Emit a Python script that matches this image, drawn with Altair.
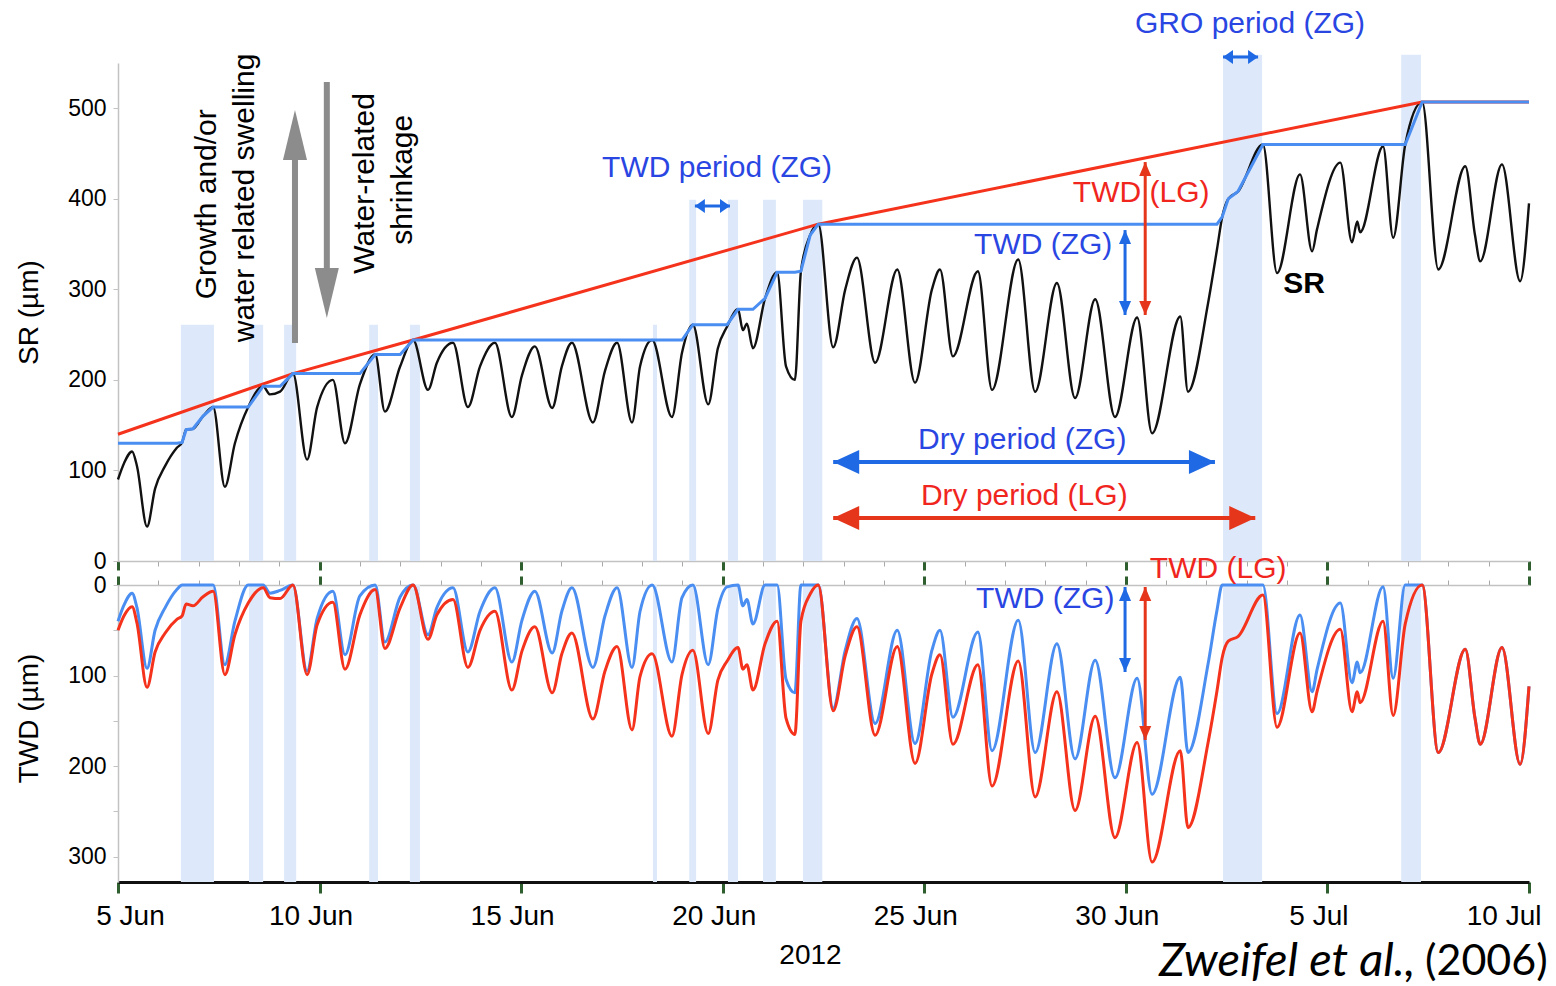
import altair as alt
import pandas as pd

# ---------------- data ----------------
# time in days after 5 Jun 2012 00:00
day = [0.00, 0.15, 0.35, 0.47, 0.72, 0.92, 1.17, 1.46, 1.59, 1.69,
       1.86, 2.11, 2.36, 2.65, 2.90, 3.23, 3.60, 3.77, 4.02, 4.34,
       4.69, 4.94, 5.33, 5.63, 6.00, 6.38, 6.62, 7.00, 7.32, 7.69,
       7.91, 8.31, 8.68, 8.98, 9.35, 9.77, 10.02, 10.34, 10.77, 11.01,
       11.26, 11.78, 12.08, 12.38, 12.75, 12.95, 13.25, 13.74, 13.99, 14.26,
       14.64, 14.88, 15.11, 15.38, 15.50, 15.60, 15.75, 16.05, 16.35, 16.57,
       16.79, 16.94, 17.17, 17.37, 17.74, 18.04, 18.33, 18.78, 19.33, 19.77,
       20.19, 20.39, 20.71, 21.33, 21.68, 22.33, 22.75, 23.29, 23.74, 24.24,
       24.73, 25.28, 25.65, 26.35, 26.54, 27.04, 27.26, 27.39, 27.54, 27.78,
       28.40, 28.75, 29.32, 29.62, 29.74, 30.32, 30.61, 30.74, 30.81, 31.38,
       31.63, 31.93, 32.35, 32.75, 33.42, 33.66, 33.79, 34.33, 34.78, 35.00]

sr = [90, 108, 121, 105, 38, 80, 105, 125, 131, 145,
      146, 160, 170, 82, 130, 170, 193, 184, 187, 207,
      112, 170, 200, 130, 195, 228, 165, 215, 244, 189,
      219, 241, 170, 215, 241, 159, 205, 237, 169, 215,
      241, 153, 210, 241, 153, 215, 244, 159, 230, 261,
      173, 235, 259, 278, 255, 262, 235, 290, 319, 215,
      200, 320, 360, 372, 236, 300, 335, 219, 322, 197,
      300, 322, 226, 320, 189, 333, 187, 307, 180, 289,
      159, 269, 141, 270, 187, 285, 344, 380, 400, 408,
      460, 318, 427, 342, 366, 440, 352, 375, 363, 458,
      357, 460, 507, 322, 436, 360, 331, 438, 309, 395]

zg = [130, 130, 130, 130, 130, 130, 130, 130, 131, 145,
      146, 160, 170, 170, 170, 170, 193, 193, 193, 207,
      207, 207, 207, 207, 207, 228, 228, 228, 244, 244,
      244, 244, 244, 244, 244, 244, 244, 244, 244, 244,
      244, 244, 244, 244, 244, 244, 244, 244, 244, 261,
      261, 261, 261, 278, 278, 278, 278, 290, 319, 319,
      319, 320, 360, 372, 372, 372, 372, 372, 372, 372,
      372, 372, 372, 372, 372, 372, 372, 372, 372, 372,
      372, 372, 372, 372, 372, 372, 372, 380, 400, 408,
      460, 460, 460, 460, 460, 460, 460, 460, 460, 460,
      460, 460, 507, 507, 507, 507, 507, 507, 507, 507]

twd_zg = [40, 22, 9, 25, 92, 50, 25, 5, 0, 0,
          0, 0, 0, 88, 40, 0, 0, 9, 6, 0,
          95, 37, 7, 77, 12, 0, 63, 13, 0, 55,
          25, 3, 74, 29, 3, 85, 39, 7, 75, 29,
          3, 91, 34, 3, 91, 29, 0, 85, 14, 0,
          88, 26, 2, 0, 23, 16, 43, 0, 0, 104,
          119, 0, 0, 0, 136, 72, 37, 153, 50, 175,
          72, 50, 146, 52, 183, 39, 185, 65, 192, 83,
          213, 103, 231, 102, 185, 87, 28, 0, 0, 0,
          0, 142, 33, 118, 94, 20, 108, 85, 97, 2,
          103, 0, 0, 185, 71, 147, 176, 69, 198, 112]

twd_lg = [50, 34, 24, 42, 113, 74, 53, 38, 34, 21,
          23, 13, 7, 99, 55, 20, 3, 14, 15, 0,
          99, 44, 19, 93, 33, 5, 70, 25, 0, 60,
          33, 16, 91, 50, 29, 116, 73, 46, 119, 76,
          53, 148, 95, 68, 160, 101, 76, 167, 99, 72,
          164, 105, 84, 69, 93, 88, 116, 65, 40, 147,
          165, 40, 10, 0, 139, 78, 46, 166, 68, 197,
          98, 77, 176, 88, 222, 84, 234, 118, 249, 145,
          279, 174, 306, 183, 268, 174, 117, 80, 62, 57,
          11, 157, 53, 140, 118, 49, 140, 118, 130, 40,
          144, 43, 0, 185, 71, 147, 176, 69, 198, 112]

lg_day = [0.00, 4.34, 7.32, 17.37, 32.35, 35.00]
lg_val = [140, 207, 244, 372, 507, 507]

band_start = [1.56, 3.25, 4.12, 6.23, 7.24, 13.27, 14.17, 15.13, 16.00, 16.99, 27.41, 31.83]
band_end = [2.38, 3.60, 4.42, 6.45, 7.49, 13.37, 14.34, 15.38, 16.32, 17.47, 28.38, 32.32]
band_top = [261, 261, 261, 261, 261, 261, 399, 399, 399, 399, 559, 559]

tick_days = [0, 5, 10, 15, 20, 25, 30, 35]
tick_labels = ["5 Jun", "10 Jun", "15 Jun", "20 Jun", "25 Jun", "30 Jun", "5 Jul", "10 Jul"]

# ---------------- styling ----------------
FONT = "Liberation Sans"
GREEN = "#2f5f2f"
GRAY = "#c2c2c2"
BAND = "#dde9fa"
BLUE_LINE = "#4a8ef2"
RED_LINE = "#f5321c"
BLUE_TXT = "#2a46e2"
RED_TXT = "#f0261e"
BLUE_ARR = "#1f6ae4"
RED_ARR = "#e5361c"
GRAY_ARR = "#8c8c8c"

W = 1411
H_TOP = 498
H_BOT = 297

xs = alt.Scale(domain=[0, 35], nice=False, zero=False)
ys_top = alt.Scale(domain=[0, 550], nice=False)
ys_bot = alt.Scale(domain=[0, 328], nice=False, reverse=True)

df = pd.DataFrame({"day": day, "sr": sr, "zg": zg, "twd_zg": twd_zg, "twd_lg": twd_lg})
lg_df = pd.DataFrame({"day": lg_day, "lg": lg_val})
bands_df = pd.DataFrame({"s": band_start, "e": band_end, "top": band_top})

major = "datum.value % 5 === 0"


def mid_axis(orient):
    return alt.Axis(orient=orient, values=list(range(36)), labels=False, title=None, grid=False,
                    domainColor=GRAY, domainWidth=1.5,
                    tickColor={"condition": {"test": major, "value": GREEN}, "value": "#a8a8a8"},
                    tickSize={"condition": {"test": major, "value": 9}, "value": 5},
                    tickWidth={"condition": {"test": major, "value": 3}, "value": 1})


label_expr = "[" + ",".join("'%s'" % t for t in tick_labels) + "][round(datum.value / 5)]"
edge = "datum.value === 0 || datum.value === 35"
bottom_axis = alt.Axis(orient="bottom", values=tick_days, labelExpr=label_expr, grid=False,
                       labelFlush=False,
                       labelAlign={"condition": {"test": "datum.value === 35", "value": "right"}, "value": "center"},
                       labelOffset={"condition": {"test": edge, "value": 12}, "value": -9},
                       labelFontSize=28, labelColor="black", labelPadding=9, labelFont=FONT,
                       domainColor="#111111", domainWidth=3,
                       tickColor=GREEN, tickSize=11, tickWidth=3,
                       title="2012", titleFontSize=28, titleFontWeight="normal", titleColor="black",
                       titleFont=FONT, titleX=692, titleY=73, titleBaseline="middle")

y_axis_top = alt.Axis(orient="left", values=[0, 100, 200, 300, 400, 500], grid=False,
                      labelFontSize=23, labelColor="black", labelPadding=7, labelFont=FONT,
                      tickSize=5, tickColor=GRAY, domainColor=GRAY, domainWidth=1.5,
                      title="SR (µm)", titleFontSize=28, titleFontWeight="normal", titleColor="black",
                      titleFont=FONT, titlePadding=24)

y_axis_bot = alt.Axis(orient="left", values=[0, 50, 100, 150, 200, 250, 300], grid=False,
                      labelExpr="datum.value % 100 === 0 ? datum.label : ''",
                      labelFontSize=23, labelColor="black", labelPadding=7, labelFont=FONT,
                      tickSize=5, tickColor=GRAY, domainColor=GRAY, domainWidth=1.5,
                      title="TWD (µm)", titleFontSize=28, titleFontWeight="normal", titleColor="black",
                      titleFont=FONT, titlePadding=24, titleY=133)


def txt(text, d, v, ys, color, size=30, angle=0, weight="normal", align="center",
        style="normal", font=FONT):
    t = pd.DataFrame({"d": [d], "v": [v], "label": [text]})
    return alt.Chart(t).mark_text(align=align, baseline="middle", fontSize=size, color=color,
                                  angle=angle, fontWeight=weight, fontStyle=style, font=font).encode(
        x=alt.X("d:Q", scale=xs, axis=None),
        y=alt.Y("v:Q", scale=ys, axis=None),
        text="label:N")


def shaft(d1, v1, d2, v2, ys, color, width):
    t = pd.DataFrame({"d": [d1], "v": [v1], "d2": [d2], "v2": [v2]})
    return alt.Chart(t).mark_rule(color=color, strokeWidth=width).encode(
        x=alt.X("d:Q", scale=xs, axis=None), x2="d2:Q",
        y=alt.Y("v:Q", scale=ys, axis=None), y2="v2:Q")


UP = "M -{k} 2 L 0 0 L {k} 2 Z"
DOWN = "M -{k} -2 L 0 0 L {k} -2 Z"
LEFT = "M 2 -{k} L 0 0 L 2 {k} Z"
RIGHT = "M -2 -{k} L 0 0 L -2 {k} Z"


def head(d, v, ys, color, path, k, size):
    t = pd.DataFrame({"d": [d], "v": [v]})
    return alt.Chart(t).mark_point(shape=path.format(k=k), size=size, filled=True, color=color,
                                   opacity=1, strokeWidth=0).encode(
        x=alt.X("d:Q", scale=xs, axis=None),
        y=alt.Y("v:Q", scale=ys, axis=None))


def v_arrow(d, v_top, v_bot, ys, color, width, k, size):
    return [shaft(d, v_top, d, v_bot, ys, color, width),
            head(d, v_top, ys, color, UP, k, size),
            head(d, v_bot, ys, color, DOWN, k, size)]


def h_arrow(d1, d2, v, ys, color, width, k, size):
    return [shaft(d1, v, d2, v, ys, color, width),
            head(d1, v, ys, color, LEFT, k, size),
            head(d2, v, ys, color, RIGHT, k, size)]


# ---------------- top panel ----------------
bands_top = alt.Chart(bands_df).mark_rect(color=BAND).encode(
    x=alt.X("s:Q", scale=xs, axis=None), x2="e:Q",
    y=alt.Y("top:Q", scale=ys_top, axis=None), y2=alt.Y2Datum(0))

sr_line = alt.Chart(df).mark_line(color="#111111", strokeWidth=2.4, interpolate="monotone").encode(
    x=alt.X("day:Q", scale=xs, axis=mid_axis("bottom")),
    y=alt.Y("sr:Q", scale=ys_top, axis=y_axis_top))
lg_line = alt.Chart(lg_df).mark_line(color=RED_LINE, strokeWidth=3).encode(
    x=alt.X("day:Q", scale=xs, axis=None), y=alt.Y("lg:Q", scale=ys_top, axis=None))
zg_line = alt.Chart(df).mark_line(color=BLUE_LINE, strokeWidth=3).encode(
    x=alt.X("day:Q", scale=xs, axis=None), y=alt.Y("zg:Q", scale=ys_top, axis=None))

top_notes = [
    txt("Growth and/or", 2.21, 394, ys_top, "black", angle=270),
    txt("water related swelling", 3.15, 401, ys_top, "black", angle=270),
    txt("Water-related", 6.13, 417, ys_top, "black", angle=270),
    txt("shrinkage", 7.07, 421, ys_top, "black", angle=270),
    shaft(4.39, 240.8, 4.39, 445, ys_top, GRAY_ARR, 6),
    head(4.39, 498.1, ys_top, GRAY_ARR, UP, 0.48, 2500),
    shaft(5.18, 529.0, 5.18, 321, ys_top, GRAY_ARR, 6),
    head(5.18, 268.4, ys_top, GRAY_ARR, DOWN, 0.48, 2500),
    txt("TWD period (ZG)", 14.86, 434, ys_top, BLUE_TXT),
    *h_arrow(14.31, 15.18, 392, ys_top, BLUE_ARR, 3, 1.4, 100),
    txt("GRO period (ZG)", 28.08, 593, ys_top, BLUE_TXT),
    *h_arrow(27.41, 28.28, 556.6, ys_top, BLUE_ARR, 3, 1.4, 100),
    *v_arrow(25.48, 440.6, 271.7, ys_top, RED_ARR, 3, 0.86, 196),
    *v_arrow(24.98, 365.5, 271.7, ys_top, BLUE_ARR, 3, 0.86, 196),
    txt("TWD (LG)", 25.38, 406, ys_top, RED_TXT),
    txt("TWD (ZG)", 22.95, 349, ys_top, BLUE_TXT),
    txt("SR", 29.42, 306, ys_top, "black", weight="bold"),
    txt("Dry period (ZG)", 22.43, 133.6, ys_top, BLUE_TXT),
    *h_arrow(17.74, 27.21, 109.3, ys_top, BLUE_ARR, 4, 0.92, 676),
    txt("Dry period (LG)", 22.48, 71.8, ys_top, RED_TXT),
    *h_arrow(17.74, 28.21, 47.5, ys_top, RED_ARR, 4, 0.92, 676),
]

top = alt.layer(bands_top, sr_line, lg_line, zg_line, *top_notes).properties(
    width=W, height=H_TOP).resolve_axis(x="independent", y="independent")

# ---------------- bottom panel ----------------
bands_bot = alt.Chart(bands_df).mark_rect(color=BAND).encode(
    x=alt.X("s:Q", scale=xs, axis=None), x2="e:Q")

twd_zg_line = alt.Chart(df).mark_line(color=BLUE_LINE, strokeWidth=3, interpolate="monotone").encode(
    x=alt.X("day:Q", scale=xs, axis=bottom_axis),
    y=alt.Y("twd_zg:Q", scale=ys_bot, axis=y_axis_bot))
twd_lg_line = alt.Chart(df).mark_line(color=RED_LINE, strokeWidth=3, interpolate="monotone").encode(
    x=alt.X("day:Q", scale=xs, axis=mid_axis("top")),
    y=alt.Y("twd_lg:Q", scale=ys_bot, axis=None))

bot_notes = [
    txt("TWD (LG)", 27.29, -17.7, ys_bot, RED_TXT),
    txt("TWD (ZG)", 23.00, 15.5, ys_bot, BLUE_TXT),
    *v_arrow(24.98, 2.2, 96.1, ys_bot, BLUE_ARR, 3, 0.86, 196),
    *v_arrow(25.48, 2.2, 171.2, ys_bot, RED_ARR, 3, 0.86, 196),
    txt("Zweifel et al.,", 32.18, 416.3, ys_bot, "black", size=47, align="right",
        style="italic", font="Lato"),
    txt("(2006)", 32.42, 416.3, ys_bot, "black", size=43, align="left", font="Lato"),
]

bottom = alt.layer(bands_bot, twd_zg_line, twd_lg_line, *bot_notes).properties(
    width=W, height=H_BOT).resolve_axis(x="independent", y="independent")

chart = alt.vconcat(top, bottom, spacing=24, bounds="flush").properties(
    padding={"left": 15, "top": 9, "right": 0, "bottom": 0}
).configure_view(stroke=None)

chart.save("out.html", embed_options={"renderer": "svg", "actions": False})
